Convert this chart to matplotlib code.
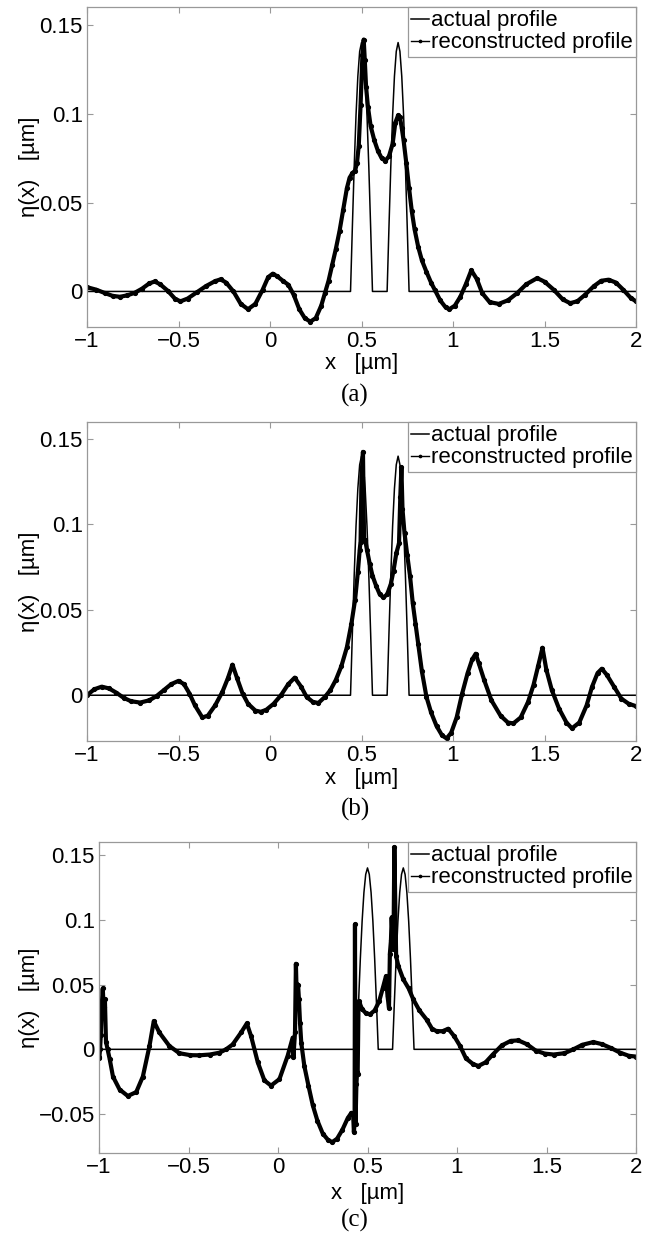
import matplotlib
matplotlib.use('Agg')
import matplotlib.pyplot as plt

plt.rcParams['font.family'] = ['Liberation Sans', 'DejaVu Sans']

# actual profile (same in all three panels)
x_act = [-1.0, 0.44, 0.45, 0.46, 0.47, 0.48, 0.49, 0.50, 0.51, 0.52, 0.53, 0.54, 0.55, 0.56,
         0.64, 0.65, 0.66, 0.67, 0.68, 0.69, 0.70, 0.71, 0.72, 0.73, 0.74, 0.75, 0.76, 2.0]
y_act = [0, 0, 0.036, 0.070, 0.099, 0.121, 0.135, 0.140, 0.135, 0.121, 0.099, 0.070, 0.036, 0,
         0, 0.036, 0.070, 0.099, 0.121, 0.135, 0.140, 0.135, 0.121, 0.099, 0.070, 0.036, 0, 0]

# reconstructed profile (a)
x_rec_a = [-1.00, -0.95, -0.90, -0.86, -0.82, -0.78, -0.74, -0.70, -0.66, -0.63, -0.60, -0.56,
           -0.52, -0.49, -0.45, -0.40, -0.35, -0.30, -0.27, -0.24, -0.20, -0.16, -0.12, -0.08,
           -0.04, -0.01, 0.015, 0.04, 0.07, 0.10, 0.13, 0.16, 0.19, 0.22, 0.25, 0.28, 0.30, 0.32,
           0.34, 0.36, 0.38, 0.40, 0.42, 0.435, 0.45, 0.465, 0.475, 0.485, 0.495, 0.505, 0.512,
           0.518, 0.525, 0.535, 0.55, 0.57, 0.59, 0.61, 0.63, 0.65, 0.67, 0.685, 0.70, 0.71, 0.72,
           0.73, 0.745, 0.76, 0.775, 0.79, 0.81, 0.83, 0.855, 0.88, 0.90, 0.93, 0.96, 0.98, 1.01,
           1.04, 1.07, 1.10, 1.13, 1.16, 1.20, 1.25, 1.30, 1.35, 1.40, 1.46, 1.50, 1.55, 1.60,
           1.64, 1.68, 1.72, 1.77, 1.81, 1.85, 1.89, 1.93, 1.97, 2.00]
y_rec_a = [0.0024, 0.0010, -0.0010, -0.0025, -0.0030, -0.0022, -0.0008, 0.0015, 0.0045, 0.0056,
           0.0040, 0.0005, -0.0040, -0.0056, -0.0040, -0.0005, 0.0030, 0.0058, 0.0068, 0.0050,
           0.0000, -0.0070, -0.0100, -0.0070, 0.0010, 0.0080, 0.0100, 0.0085, 0.0060, 0.0038,
           -0.0020, -0.0100, -0.0150, -0.0170, -0.0150, -0.0080, -0.0010, 0.0060, 0.0150, 0.0240,
           0.0340, 0.0460, 0.0580, 0.0640, 0.0665, 0.0680, 0.0720, 0.0820, 0.1050, 0.1330, 0.1417,
           0.1300, 0.1150, 0.1040, 0.0930, 0.0850, 0.0790, 0.0750, 0.0735, 0.0760, 0.0830, 0.0950,
           0.0990, 0.0980, 0.0920, 0.0850, 0.0720, 0.0580, 0.0450, 0.0350, 0.0250, 0.0175, 0.0110,
           0.0050, 0.0010, -0.0050, -0.0090, -0.0100, -0.0080, -0.0030, 0.0040, 0.0119, 0.0070,
           -0.0010, -0.0060, -0.0070, -0.0050, -0.0010, 0.0040, 0.0075, 0.0055, 0.0010, -0.0045,
           -0.0066, -0.0055, -0.0020, 0.0030, 0.0060, 0.0066, 0.0050, 0.0010, -0.0035, -0.0056]

# reconstructed profile (b)
x_rec_b = [-1.00, -0.96, -0.92, -0.88, -0.84, -0.80, -0.76, -0.71, -0.66, -0.62, -0.58, -0.54,
           -0.50, -0.47, -0.44, -0.41, -0.37, -0.34, -0.30, -0.26, -0.23, -0.205, -0.18, -0.15,
           -0.12, -0.08, -0.05, -0.02, 0.02, 0.06, 0.10, 0.135, 0.17, 0.20, 0.235, 0.265, 0.30,
           0.33, 0.36, 0.39, 0.42, 0.445, 0.465, 0.48, 0.49, 0.495, 0.50, 0.508, 0.514, 0.52,
           0.53, 0.545, 0.56, 0.58, 0.60, 0.62, 0.64, 0.66, 0.675, 0.69, 0.705, 0.712, 0.718,
           0.724, 0.735, 0.75, 0.765, 0.78, 0.795, 0.81, 0.83, 0.855, 0.88, 0.91, 0.94, 0.965,
           0.99, 1.02, 1.05, 1.08, 1.105, 1.124, 1.14, 1.17, 1.21, 1.26, 1.30, 1.33, 1.37, 1.41,
           1.44, 1.465, 1.489, 1.51, 1.54, 1.58, 1.62, 1.65, 1.69, 1.73, 1.76, 1.79, 1.813, 1.84,
           1.88, 1.92, 1.96, 2.00]
y_rec_b = [0.0000, 0.0035, 0.0050, 0.0040, 0.0015, -0.0015, -0.0035, -0.0043, -0.0030, -0.0005,
           0.0030, 0.0065, 0.0084, 0.0065, 0.0010, -0.0060, -0.0130, -0.0120, -0.0060, 0.0020,
           0.0100, 0.0179, 0.0100, 0.0010, -0.0050, -0.0090, -0.0097, -0.0085, -0.0050, 0.0000,
           0.0065, 0.0103, 0.0050, -0.0010, -0.0040, -0.0045, -0.0010, 0.0030, 0.0090, 0.0170,
           0.0280, 0.0420, 0.0560, 0.0720, 0.0850, 0.0900, 0.1280, 0.1425, 0.0910, 0.0910,
           0.0850, 0.0770, 0.0700, 0.0640, 0.0590, 0.0573, 0.0590, 0.0650, 0.0730, 0.0830,
           0.0890, 0.1160, 0.1335, 0.1090, 0.0950, 0.0820, 0.0700, 0.0540, 0.0420, 0.0300,
           0.0140, -0.0010, -0.0100, -0.0180, -0.0235, -0.0253, -0.0220, -0.0130, 0.0010, 0.0130,
           0.0210, 0.0243, 0.0190, 0.0090, -0.0030, -0.0120, -0.0160, -0.0165, -0.0130, -0.0040,
           0.0060, 0.0170, 0.0278, 0.0150, 0.0030, -0.0080, -0.0160, -0.0194, -0.0160, -0.0060,
           0.0050, 0.0130, 0.0155, 0.0120, 0.0050, -0.0020, -0.0050, -0.0064]

# reconstructed profile (c)
x_rec_c = [-1.000, -0.998, -0.994, -0.990, -0.985, -0.979, -0.974, -0.967, -0.961, -0.952,
           -0.940, -0.922, -0.885, -0.839, -0.792, -0.755, -0.718, -0.694, -0.663, -0.607,
           -0.551, -0.490, -0.439, -0.380, -0.327, -0.290, -0.253, -0.206, -0.174, -0.150,
           -0.113, -0.076, -0.039, 0.008, 0.054, 0.082, 0.086, 0.095, 0.100, 0.106, 0.112, 0.117,
           0.123, 0.130, 0.147, 0.170, 0.194, 0.220, 0.250, 0.280, 0.303, 0.330, 0.360, 0.390,
           0.410, 0.420, 0.424, 0.428, 0.430, 0.433, 0.438, 0.442, 0.445, 0.450, 0.455, 0.470,
           0.490, 0.514, 0.540, 0.565, 0.585, 0.603, 0.612, 0.620, 0.625, 0.631, 0.635, 0.641,
           0.645, 0.650, 0.660, 0.673, 0.700, 0.730, 0.756, 0.790, 0.830, 0.860, 0.886, 0.920,
           0.951, 0.985, 1.017, 1.050, 1.091, 1.120, 1.160, 1.200, 1.250, 1.300, 1.342, 1.390,
           1.440, 1.490, 1.540, 1.600, 1.650, 1.700, 1.762, 1.810, 1.860, 1.910, 1.960, 2.000]
y_rec_c = [-0.0064, -0.0059, 0.0000, 0.0110, 0.0326, 0.0470, 0.0326, 0.0385, 0.0059, 0.0000,
           -0.0077, -0.0210, -0.0310, -0.0360, -0.0330, -0.0210, 0.0026, 0.0218, 0.0130, 0.0026,
           -0.0030, -0.0045, -0.0046, -0.0040, -0.0026, 0.0000, 0.0038, 0.0130, 0.0200, 0.0100,
           -0.0100, -0.0240, -0.0280, -0.0230, -0.0050, 0.0090, -0.0060, 0.0130, 0.0660, 0.0330,
           0.0500, 0.0385, 0.0205, 0.0050, -0.0128, -0.0280, -0.0430, -0.0550, -0.0650, -0.0700,
           -0.0716, -0.0690, -0.0620, -0.0530, -0.0490, -0.0510, -0.0640, -0.0560, 0.0964, -0.0580,
           -0.0270, -0.0172, -0.0190, 0.0370, 0.0360, 0.0310, 0.0280, 0.0270, 0.0300, 0.0370,
           0.0470, 0.0564, 0.0410, 0.0320, 0.0738, 0.0840, 0.1018, 0.0840, 0.0777, 0.1560,
           0.0718, 0.0640, 0.0540, 0.0470, 0.0385, 0.0300, 0.0230, 0.0160, 0.0140, 0.0140,
           0.0159, 0.0100, 0.0026, -0.0070, -0.0115, -0.0128, -0.0100, -0.0040, 0.0030, 0.0065,
           0.0069, 0.0040, -0.0010, -0.0033, -0.0040, -0.0030, 0.0000, 0.0035, 0.0056, 0.0040,
           0.0010, -0.0025, -0.0050, -0.0056]

x_ticks = [-1, -0.5, 0, 0.5, 1, 1.5, 2]
x_ticklabels = ['\u22121', '\u22120.5', '0', '0.5', '1', '1.5', '2']
y_ticks_ab = [0, 0.05, 0.1, 0.15]
y_ticklabels_ab = ['0', '0.05', '0.1', '0.15']
y_ticks_c = [-0.05, 0, 0.05, 0.1, 0.15]
y_ticklabels_c = ['\u22120.05', '0', '0.05', '0.1', '0.15']

panels = ['(a)', '(b)', '(c)']
rec_x = [x_rec_a, x_rec_b, x_rec_c]
rec_y = [y_rec_a, y_rec_b, y_rec_c]
ylims = [(-0.02, 0.16), (-0.0268, 0.16), (-0.08, 0.16)]
yticks = [y_ticks_ab, y_ticks_ab, y_ticks_c]
yticklabels = [y_ticklabels_ab, y_ticklabels_ab, y_ticklabels_c]

W, H = 654, 1237
# axes boxes in pixels: left, right, top, bottom
boxes = [(87, 636, 7, 327), (87, 636, 422, 741), (99, 636, 842, 1153)]
xlabel_y = [353, 768, 1183]   # top of the x label
panel_y = [395, 809, 1220]

fig = plt.figure(figsize=(W / 100, H / 100), dpi=100)

for i in range(3):
    l, r, t, b = boxes[i]
    ax = fig.add_axes([l / W, 1 - b / H, (r - l) / W, (b - t) / H])
    ax.plot(x_act, y_act, color='black', lw=1.1, label='actual profile')
    ax.plot(rec_x[i], rec_y[i], color='black', lw=3.0, marker='.', ms=5.5,
            label='reconstructed profile')
    ax.set_xlim(-1, 2)
    ax.set_ylim(*ylims[i])
    ax.set_xticks(x_ticks)
    ax.set_xticklabels(x_ticklabels)
    ax.set_yticks(yticks[i])
    ax.set_yticklabels(yticklabels[i])
    ax.tick_params(direction='in', top=True, right=True, length=4, width=0.8,
                   color='#999999', labelsize=16, pad=3)
    for s in ax.spines.values():
        s.set_color('#999999')
        s.set_linewidth(0.9)
    ax.set_xlabel('x   [\u00b5m]', fontsize=16)
    ax.xaxis.set_label_coords(0.5, -(xlabel_y[i] - b) / (b - t))
    ax.set_ylabel('\u03b7(x)   [\u00b5m]', fontsize=16)
    ax.yaxis.set_label_coords(-(l - 40) / (r - l), 0.5)
    leg = ax.legend(loc='upper right', fontsize=16, handlelength=0.8, handletextpad=0.1,
                    borderpad=0.15, labelspacing=0.05, borderaxespad=0, fancybox=False,
                    edgecolor='#999999', framealpha=1, markerscale=0.6)
    leg.get_frame().set_linewidth(0.9)
    # thin line for the legend handle, like the original
    leg.legend_handles[1].set_linewidth(1.0)
    fig.text(355 / W, 1 - panel_y[i] / H, panels[i], ha='center', va='center',
             fontsize=18, family='Liberation Serif')

plt.savefig('out.png', dpi=100)
